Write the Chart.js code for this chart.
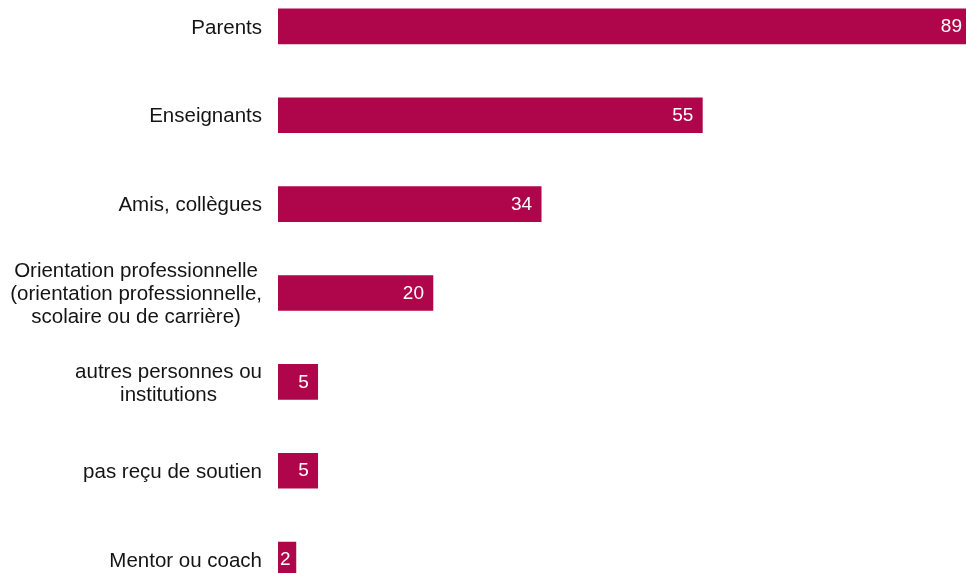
<!DOCTYPE html>
<html>
<head>
<meta charset="utf-8">
<script src="https://cdn.jsdelivr.net/npm/chart.js@4.4.1/dist/chart.umd.min.js"></script>
<style>
    html, body { margin: 0; padding: 0; background: #fff; overflow: hidden; }
    body { width: 966px; height: 573px; position: relative; }
    #wrap { position: absolute; left: 0; top: -18px; width: 972px; height: 622px; }
</style>
</head>
<body>
<div id="wrap"><canvas id="supportChart"></canvas></div>
<script>
// Categories (multi-line ones as arrays)
const categories = [
    'Parents',
    'Enseignants',
    'Amis, collègues',
    ['Orientation professionnelle', '(orientation professionnelle,', 'scolaire ou de carrière)'],
    ['autres personnes ou', 'institutions'],
    'pas reçu de soutien',
    'Mentor ou coach'
];
const values = [89, 54.5, 33.8, 19.9, 5.1, 5.1, 2.3];
const barColor = '#af054b';
const fontFamily = '"Liberation Sans", Arial, sans-serif';

// Category labels: block right-aligned, lines centered inside the block
const labelPlugin = {
    id: 'catLabels',
    afterDraw(chart) {
        const ctx = chart.ctx;
        const yScale = chart.scales.y;
        const right = chart.chartArea.left - 16;
        const lineH = 23;
        ctx.save();
        ctx.font = '20.5px ' + fontFamily;
        ctx.fillStyle = '#141414';
        ctx.textAlign = 'center';
        ctx.textBaseline = 'middle';
        categories.forEach((cat, i) => {
            const lines = Array.isArray(cat) ? cat : [cat];
            const maxW = Math.max(...lines.map(l => ctx.measureText(l).width));
            const cx = right - maxW / 2;
            const cy = yScale.getPixelForTick(i) + 1.5;
            lines.forEach((line, j) => {
                ctx.fillText(line, cx, cy + (j - (lines.length - 1) / 2) * lineH);
            });
        });
        ctx.restore();
    }
};

// Value labels inside bar end
const valuePlugin = {
    id: 'valueLabels',
    afterDatasetsDraw(chart) {
        const ctx = chart.ctx;
        const meta = chart.getDatasetMeta(0);
        ctx.save();
        ctx.font = '19px ' + fontFamily;
        ctx.fillStyle = '#ffffff';
        ctx.textAlign = 'right';
        ctx.textBaseline = 'middle';
        meta.data.forEach((bar, i) => {
            const txt = String(Math.round(values[i]));
            const w = ctx.measureText(txt).width;
            const x = Math.max(bar.x - 9, bar.base + 2 + w);
            ctx.fillText(txt, x, bar.y + 0.5);
        });
        ctx.restore();
    }
};

new Chart(document.getElementById('supportChart'), {
    type: 'bar',
    data: {
        labels: categories,
        datasets: [{
            data: values,
            backgroundColor: barColor,
            borderWidth: 0,
            barThickness: 35
        }]
    },
    options: {
        indexAxis: 'y',
        responsive: true,
        maintainAspectRatio: false,
        animation: false,
        layout: { padding: { left: 0, right: 1, top: 0, bottom: 0 } },
        plugins: {
            legend: { display: false },
            tooltip: { enabled: false }
        },
        scales: {
            x: {
                display: false,
                min: 0,
                max: 89
            },
            y: {
                grid: { display: false, drawTicks: false },
                border: { display: false },
                ticks: { display: false },
                afterFit(scale) { scale.width = 278; }
            }
        }
    },
    plugins: [labelPlugin, valuePlugin]
});
</script>
</body>
</html>
